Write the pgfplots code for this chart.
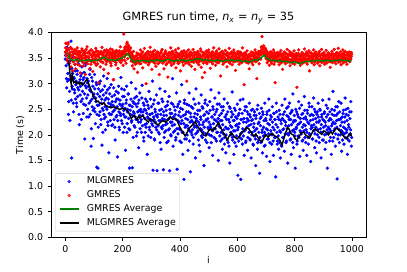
\documentclass[border=0pt]{standalone}
\usepackage{fontspec}
\setmainfont{DejaVu Sans}
\usepackage{pgfplots}
\usepackage{pgfplotstable}
\pgfplotsset{compat=1.18}
\definecolor{mplgreen}{rgb}{0,0.5,0}
\pgfplotstableread{
i ml gm
0 3.48 3.62
2 3.62 3.79
4 3.10 3.55
6 3.71 3.48
8 3.05 3.68
10 3.40 3.80
12 2.65 3.41
14 3.55 3.59
16 2.28 3.52
18 3.30 3.71
20 3.83 3.33
22 1.55 3.47
24 2.95 3.62
26 3.20 3.25
28 2.62 3.58
30 3.12 3.44
32 2.88 3.66
34 3.38 3.52
36 2.70 3.29
38 3.05 3.61
40 2.55 3.50
42 3.25 3.70
44 2.92 3.38
46 3.48 3.57
48 2.40 3.46
50 3.02 3.63
52 2.78 3.21
54 3.15 3.54
56 2.30 3.49
58 3.33 3.68
60 2.85 3.42
62 3.08 3.56
64 2.60 3.35
66 3.22 3.64
68 1.92 3.51
70 2.96 3.18
72 3.40 3.60
74 2.72 3.45
76 3.10 3.72
78 2.50 3.39
80 3.05 3.53
82 2.35 3.61
84 2.88 3.47
86 3.28 3.30
88 2.66 3.58
90 1.78 3.66
92 3.12 3.43
94 2.55 3.55
96 2.95 3.24
98 1.93 3.62
100 2.80 3.48
102 3.18 3.57
104 2.45 3.40
106 2.72 3.69
108 3.02 3.36
110 1.37 3.54
112 2.58 3.46
114 1.35 3.63
116 2.90 3.02
118 2.38 3.51
120 2.75 3.58
122 3.05 3.33
124 2.20 3.60
126 2.62 3.49
128 1.80 3.71
130 2.88 3.42
132 2.48 3.55
134 3.15 3.28
136 2.32 3.64
138 2.68 3.47
140 2.10 3.53
142 2.82 3.38
144 2.55 3.66
146 3.10 3.45
148 2.25 3.57
150 2.70 3.20
152 1.65 3.61
154 2.92 3.50
156 2.40 3.43
158 2.60 3.68
160 2.98 3.35
162 2.18 3.56
164 2.65 3.48
166 2.45 3.62
168 3.08 3.08
170 2.30 3.52
172 2.78 3.44
174 1.90 3.59
176 2.52 3.37
178 2.85 3.65
180 2.38 3.49
182 1.57 3.55
184 2.70 3.30
186 2.95 3.63
188 2.15 3.46
190 2.60 3.58
192 2.42 3.72
194 3.12 3.41
196 2.28 3.54
198 2.55 3.47
200 2.75 3.60
202 2.05 3.36
204 2.48 3.97
206 2.88 3.52
208 2.35 3.45
210 1.70 3.66
212 2.62 3.40
214 2.95 3.57
216 2.22 3.81
218 2.50 3.49
220 2.80 3.75
222 2.12 3.68
224 1.35 3.62
226 2.58 3.55
228 2.40 3.70
230 3.02 3.44
232 2.28 3.58
234 1.36 3.35
236 2.65 3.52
238 2.45 3.63
240 2.18 3.29
242 2.72 3.46
244 2.35 3.38
246 2.90 3.54
248 1.98 3.41
250 2.55 3.60
252 2.30 3.22
254 2.62 3.49
256 1.75 3.57
258 2.48 3.43
260 2.82 3.55
262 2.25 3.66
264 2.45 3.39
266 2.05 3.50
268 2.97 3.61
270 2.38 3.31
272 2.62 3.54
274 1.88 3.47
276 2.50 3.69
278 2.20 3.42
280 2.70 3.58
282 2.15 3.00
284 2.42 3.52
286 1.62 3.45
288 2.58 3.63
290 2.32 3.37
292 2.85 3.56
294 2.10 3.49
296 2.40 3.71
298 1.95 3.44
300 2.55 3.53
302 2.22 3.28
304 3.05 3.60
306 1.31 3.46
308 2.35 3.57
310 2.68 3.41
312 1.90 3.65
314 2.45 3.50
316 2.15 3.34
318 2.78 3.58
320 1.30 3.47
322 2.40 3.62
324 2.18 3.39
326 2.62 3.55
328 2.02 3.18
330 2.90 3.52
332 2.28 3.44
334 1.72 3.60
336 2.50 3.48
338 2.12 3.67
340 2.65 3.40
342 1.32 3.56
344 2.38 3.29
346 2.05 3.53
348 2.85 3.46
350 2.20 3.64
352 2.48 3.37
354 1.85 3.58
356 2.58 3.50
358 2.30 3.13
360 2.10 3.55
362 2.75 3.43
364 1.30 3.61
366 2.42 3.48
368 2.00 3.70
370 2.62 3.36
372 2.25 3.57
374 3.10 3.45
376 1.78 3.62
378 2.35 3.39
380 2.55 3.54
382 2.08 3.47
384 2.40 3.66
386 1.95 3.31
388 2.82 3.52
390 1.33 3.59
392 2.28 3.44
394 2.60 3.69
396 2.12 3.40
398 2.45 3.56
400 1.88 3.48
402 2.52 3.25
404 2.22 3.61
406 2.98 3.50
408 2.05 3.43
410 1.62 3.58
412 2.38 3.36
414 1.13 3.64
416 2.68 3.47
418 2.15 3.53
420 2.32 3.40
422 1.92 3.57
424 2.60 3.05
426 2.18 3.52
428 1.70 3.45
430 2.45 3.66
432 2.82 3.38
434 2.08 3.55
436 1.28 3.49
438 2.35 3.62
440 2.55 3.34
442 2.00 3.58
444 2.25 3.46
446 1.82 3.67
448 2.70 3.42
450 2.15 3.55
452 2.42 3.28
454 1.55 3.60
456 2.90 3.49
458 2.28 3.57
460 2.05 3.41
462 2.48 3.63
464 1.90 3.50
466 2.62 3.37
468 2.20 3.56
470 1.68 3.45
472 2.35 3.68
474 2.78 3.32
476 2.10 3.54
478 1.95 3.12
480 2.52 3.61
482 2.25 3.40
484 1.40 3.57
486 2.40 3.22
488 2.68 3.52
490 2.02 3.46
492 2.30 3.64
494 1.85 3.39
496 2.58 3.55
498 2.15 3.48
500 2.42 3.66
502 1.75 3.43
504 2.65 3.57
506 2.20 3.30
508 2.88 3.53
510 1.98 3.47
512 2.35 3.62
514 1.60 3.39
516 2.50 3.55
518 2.12 3.70
520 2.30 3.45
522 2.72 3.58
524 1.92 3.36
526 2.45 3.52
528 2.05 3.64
530 2.60 3.41
532 2.25 3.56
534 1.50 3.49
536 2.82 3.68
538 2.38 3.44
540 2.15 3.60
542 1.88 3.15
544 2.55 3.53
546 2.28 3.47
548 1.72 3.63
550 2.48 3.38
552 2.02 3.57
554 2.70 3.50
556 1.95 3.42
558 2.35 3.65
560 1.65 3.48
562 2.40 3.56
564 2.12 3.33
566 2.62 3.60
568 1.85 3.46
570 2.30 3.52
572 2.55 3.69
574 1.45 3.40
576 2.18 3.58
578 2.00 3.45
580 2.45 3.62
582 2.84 3.37
584 1.90 3.54
586 2.28 3.48
588 1.62 3.66
590 2.52 3.43
592 2.08 3.59
594 2.35 3.26
596 1.78 3.51
598 2.20 3.57
600 2.60 3.44
602 1.21 3.63
604 2.15 3.50
606 2.42 3.38
608 1.95 3.55
610 2.68 3.47
612 1.13 3.61
614 2.30 3.42
616 2.05 3.58
618 1.82 3.70
620 2.70 3.46
622 2.25 3.53
624 1.60 2.98
626 2.48 3.60
628 2.10 3.49
630 1.88 3.56
632 2.55 3.43
634 2.32 3.64
636 1.70 3.51
638 2.40 3.40
640 2.18 3.57
642 2.62 3.29
644 1.92 3.54
646 2.35 3.46
648 1.55 3.62
650 2.28 3.48
652 2.05 3.55
654 2.50 3.37
656 1.80 3.60
658 2.22 3.45
660 2.45 3.52
662 1.98 3.66
664 1.40 3.43
666 2.38 3.58
668 2.12 3.10
670 1.72 3.50
672 2.58 3.47
674 1.90 3.63
676 2.25 3.39
678 1.25 3.56
680 2.32 3.61
682 1.85 3.48
684 2.52 3.72
686 2.05 3.92
688 1.65 3.66
690 2.40 3.58
692 2.15 3.74
694 1.78 3.62
696 2.62 3.55
698 2.00 3.69
700 2.28 3.50
702 1.58 3.64
704 2.45 3.41
706 2.10 3.57
708 1.92 3.47
710 2.70 3.60
712 2.20 3.36
714 1.48 3.53
716 2.38 3.45
718 2.02 3.62
720 1.82 3.40
722 2.55 3.56
724 2.15 3.49
726 1.60 3.66
728 2.42 3.38
730 1.95 3.54
732 2.30 3.02
734 1.18 3.58
736 2.62 3.46
738 2.05 3.52
740 1.88 3.61
742 2.35 3.43
744 1.72 3.55
746 2.48 3.37
748 2.08 3.60
750 1.55 3.47
752 2.28 3.65
754 1.80 3.41
756 2.58 3.53
758 1.95 3.28
760 2.40 3.57
762 2.12 3.44
764 1.68 3.62
766 2.70 3.50
768 2.25 3.39
770 1.85 3.58
772 2.52 3.46
774 2.02 3.67
776 1.45 3.42
778 2.35 3.55
780 2.18 3.48
782 2.62 3.63
784 1.90 3.35
786 2.30 3.56
788 1.62 3.45
790 2.45 3.60
792 2.08 3.40
794 2.80 3.54
796 1.75 3.47
798 2.28 3.64
800 2.05 3.38
802 1.35 3.53
804 2.50 3.46
806 2.15 3.59
808 1.82 2.93
810 2.40 3.55
812 1.98 3.43
814 2.65 3.66
816 2.22 3.49
818 1.58 3.57
820 2.32 3.36
822 2.05 3.52
824 2.58 3.45
826 1.88 3.61
828 2.42 3.40
830 1.70 3.56
832 2.20 3.48
834 2.75 3.68
836 1.95 3.42
838 2.35 3.58
840 2.10 3.45
842 1.60 3.62
844 2.48 3.38
846 2.25 3.55
848 1.82 3.47
850 2.62 3.64
852 2.02 3.25
854 2.38 3.53
856 1.48 3.46
858 2.18 3.60
860 2.55 3.41
862 1.92 3.57
864 2.30 3.50
866 2.72 3.66
868 2.08 3.37
870 1.75 3.54
872 2.45 3.45
874 2.15 3.62
876 1.65 3.48
878 2.40 3.56
880 2.00 3.40
882 2.62 3.58
884 2.25 3.44
886 1.85 3.63
888 2.50 3.35
890 2.12 3.55
892 1.55 3.49
894 2.35 3.67
896 2.05 3.42
898 2.68 3.57
900 1.90 3.46
902 2.28 3.61
904 2.45 3.38
906 1.72 3.54
908 2.18 3.47
910 2.58 3.65
912 2.02 3.40
914 1.35 3.56
916 2.40 3.49
918 2.15 3.60
920 2.70 3.43
922 1.88 3.57
924 2.32 3.32
926 2.08 3.55
928 1.62 3.46
930 2.50 3.63
932 2.22 3.41
934 2.85 3.58
936 1.95 3.50
938 2.38 3.67
940 2.12 3.44
942 1.78 3.56
944 2.55 3.39
946 2.28 3.61
948 1.14 3.48
950 2.42 3.54
952 2.00 3.69
954 2.65 3.42
956 1.85 3.57
958 2.30 3.46
960 2.18 3.62
962 2.62 3.37
964 1.68 3.53
966 2.35 3.48
968 2.05 3.66
970 2.48 3.41
972 1.82 3.58
974 2.25 3.50
976 2.72 3.63
978 1.95 3.44
980 2.40 3.56
982 2.10 3.38
984 1.62 3.60
986 2.52 3.47
988 2.20 3.55
990 1.88 3.62
992 2.45 3.43
994 2.02 3.58
996 2.65 3.49
998 1.78 3.61
}\runs
\pgfplotstableread{
i ml gm
1 3.55 3.70
3 3.35 3.58
5 2.92 3.64
7 3.66 3.45
9 3.20 3.77
11 2.40 3.52
13 3.08 3.66
15 2.85 3.40
17 3.45 3.61
19 3.15 3.55
21 2.68 3.49
23 3.30 3.68
25 2.90 3.56
27 3.52 3.43
29 2.45 3.62
31 3.10 3.51
33 2.82 3.38
35 3.25 3.59
37 2.98 3.66
39 2.62 3.47
41 3.18 3.57
43 2.75 3.44
45 3.40 3.63
47 2.88 3.52
49 2.20 3.58
51 3.08 3.35
53 2.95 3.61
55 2.65 3.54
57 3.20 3.46
59 2.70 3.65
61 3.00 3.50
63 2.42 3.59
65 3.12 3.41
67 2.80 3.62
69 3.35 3.55
71 2.58 3.48
73 2.92 3.67
75 2.35 3.53
77 3.02 3.44
79 2.78 3.60
81 2.95 3.51
83 2.62 3.63
85 3.18 3.45
87 2.40 3.57
89 2.85 3.38
91 2.12 3.66
93 2.70 3.52
95 3.05 3.47
97 2.48 3.60
99 2.75 3.55
101 2.52 3.42
103 2.90 3.61
105 2.22 3.53
107 2.65 3.48
109 2.98 3.64
111 2.40 3.57
113 2.80 3.39
115 2.15 3.55
117 2.58 3.62
119 3.00 3.46
121 2.45 3.58
123 2.85 3.44
125 2.30 3.63
127 2.70 3.50
129 2.52 3.57
131 2.05 3.41
133 2.78 3.60
135 2.40 3.52
137 2.95 3.65
139 2.55 3.47
141 2.35 3.56
143 2.72 3.62
145 2.50 3.43
147 2.88 3.58
149 2.18 3.51
151 2.62 3.64
153 2.42 3.46
155 2.80 3.55
157 2.28 3.61
159 2.55 3.40
161 2.40 3.58
163 2.75 3.52
165 2.20 3.66
167 2.58 3.45
169 2.92 3.57
171 2.48 3.62
173 2.15 3.49
175 2.65 3.54
177 2.35 3.41
179 2.70 3.63
181 2.55 3.55
183 2.28 3.47
185 2.82 3.60
187 2.45 3.53
189 2.10 3.64
191 2.68 3.44
193 2.38 3.58
195 2.58 3.50
197 2.90 3.62
199 2.22 3.46
201 2.60 3.57
203 2.40 3.64
205 2.75 3.59
207 2.15 3.70
209 2.52 3.62
211 2.35 3.73
213 2.68 3.66
215 2.05 3.78
217 2.45 3.70
219 2.80 3.64
221 2.32 3.72
223 2.58 3.60
225 2.10 3.66
227 2.48 3.58
229 2.70 3.52
231 2.25 3.61
233 2.55 3.47
235 2.38 3.55
237 1.95 3.42
239 2.62 3.50
241 2.42 3.44
243 2.15 3.52
245 2.60 3.38
247 2.30 3.47
249 2.75 3.55
251 2.05 3.41
253 2.45 3.50
255 2.25 3.46
257 2.68 3.58
259 2.38 3.39
261 2.12 3.52
263 2.50 3.45
265 2.30 3.58
267 2.72 3.47
269 2.18 3.53
271 2.45 3.62
273 1.95 3.44
275 2.58 3.51
277 2.32 3.57
279 2.05 3.48
281 2.48 3.55
283 2.22 3.42
285 2.65 3.60
287 2.35 3.50
289 1.98 3.46
291 2.52 3.58
293 2.15 3.41
295 2.40 3.54
297 2.70 3.62
299 2.28 3.47
301 2.05 3.56
303 2.42 3.44
305 2.18 3.52
307 2.60 3.63
309 2.30 3.48
311 1.92 3.55
313 2.50 3.40
315 2.25 3.58
317 2.38 3.51
319 2.10 3.45
321 2.35 3.53
323 2.62 3.61
325 2.05 3.47
327 2.28 3.56
329 2.48 3.42
331 1.85 3.59
333 2.40 3.50
335 2.15 3.64
337 2.70 3.45
339 2.32 3.54
341 2.18 3.48
343 2.45 3.57
345 1.95 3.43
347 2.30 3.60
349 2.55 3.51
351 2.08 3.46
353 2.38 3.58
355 2.22 3.40
357 2.65 3.55
359 1.88 3.49
361 2.32 3.60
363 2.12 3.47
365 2.50 3.54
367 2.25 3.41
369 1.98 3.58
371 2.42 3.50
373 2.18 3.63
375 2.60 3.45
377 2.05 3.52
379 2.35 3.57
381 2.20 3.43
383 2.48 3.55
385 1.90 3.49
387 2.30 3.61
389 2.12 3.46
391 2.55 3.53
393 2.02 3.40
395 2.38 3.58
397 2.25 3.51
399 2.65 3.44
401 2.10 3.57
403 2.35 3.46
405 1.85 3.52
407 2.28 3.63
409 2.50 3.42
411 2.05 3.55
413 2.22 3.48
415 2.62 3.60
417 1.92 3.45
419 2.40 3.54
421 2.18 3.50
423 2.45 3.62
425 2.00 3.44
427 2.30 3.56
429 2.12 3.41
431 2.58 3.53
433 1.88 3.59
435 2.25 3.47
437 2.42 3.55
439 2.05 3.43
441 2.28 3.58
443 2.10 3.49
445 2.52 3.54
447 1.95 3.42
449 2.35 3.61
451 2.18 3.50
453 2.60 3.46
455 2.02 3.57
457 2.32 3.44
459 2.15 3.52
461 2.40 3.60
463 2.08 3.47
465 2.25 3.55
467 1.80 3.43
469 2.48 3.58
471 2.12 3.51
473 2.30 3.64
475 1.98 3.45
477 2.55 3.53
479 2.20 3.48
481 2.05 3.56
483 2.38 3.44
485 2.15 3.60
487 2.62 3.50
489 1.90 3.46
491 2.28 3.57
493 2.45 3.42
495 2.02 3.53
497 2.32 3.61
499 2.12 3.47
501 2.25 3.52
503 2.00 3.60
505 2.48 3.46
507 2.15 3.55
509 1.85 3.43
511 2.35 3.58
513 2.08 3.50
515 2.55 3.62
517 2.22 3.45
519 1.95 3.54
521 2.40 3.49
523 2.12 3.57
525 2.28 3.44
527 1.88 3.61
529 2.50 3.52
531 2.05 3.46
533 2.32 3.58
535 2.18 3.41
537 2.60 3.55
539 1.98 3.50
541 2.28 3.56
543 2.05 3.45
545 2.42 3.62
547 1.92 3.48
549 2.20 3.54
551 2.55 3.43
553 2.10 3.59
555 1.82 3.51
557 2.35 3.46
559 2.15 3.57
561 2.00 3.44
563 2.30 3.55
565 1.90 3.61
567 2.45 3.48
569 2.12 3.53
571 1.78 3.42
573 2.25 3.58
575 2.52 3.50
577 2.05 3.45
579 2.35 3.60
581 2.15 3.52
583 1.95 3.46
585 2.40 3.57
587 2.08 3.43
589 2.28 3.61
591 1.85 3.49
593 2.48 3.54
595 2.18 3.45
597 1.98 3.58
599 2.32 3.50
601 2.10 3.47
603 2.38 3.59
605 1.88 3.52
607 2.22 3.44
609 2.50 3.62
611 2.02 3.48
613 2.30 3.55
615 1.92 3.41
617 2.42 3.57
619 2.12 3.50
621 1.98 3.58
623 2.32 3.45
625 2.08 3.53
627 2.55 3.47
629 1.85 3.60
631 2.25 3.42
633 2.15 3.56
635 2.45 3.49
637 1.95 3.54
639 2.28 3.46
641 2.05 3.52
643 2.40 3.44
645 1.90 3.57
647 2.20 3.48
649 2.48 3.55
651 2.00 3.41
653 2.30 3.60
655 1.82 3.47
657 2.15 3.53
659 2.38 3.45
661 2.08 3.56
663 1.92 3.49
665 2.32 3.61
667 2.12 3.44
669 2.50 3.52
671 1.85 3.58
673 2.22 3.47
675 2.05 3.55
677 2.42 3.62
679 1.95 3.50
681 2.18 3.64
683 2.35 3.57
685 1.88 3.70
687 2.10 3.62
689 2.45 3.68
691 1.98 3.59
693 2.28 3.71
695 2.05 3.63
697 1.80 3.58
699 2.32 3.66
701 2.12 3.55
703 2.40 3.48
705 1.92 3.60
707 2.22 3.52
709 2.02 3.45
711 2.48 3.57
713 1.85 3.50
715 2.30 3.62
717 2.08 3.44
719 2.35 3.53
721 2.00 3.59
723 2.25 3.46
725 1.88 3.54
727 2.42 3.49
729 2.10 3.61
731 2.30 3.43
733 1.95 3.56
735 2.20 3.50
737 2.45 3.47
739 1.82 3.58
741 2.15 3.45
743 1.98 3.53
745 2.30 3.60
747 1.85 3.48
749 2.40 3.55
751 2.05 3.42
753 2.22 3.58
755 1.78 3.50
757 2.32 3.46
759 2.10 3.56
761 1.95 3.49
763 2.28 3.61
765 2.45 3.44
767 2.02 3.53
769 2.18 3.47
771 1.88 3.59
773 2.38 3.51
775 2.12 3.45
777 2.55 3.57
779 2.00 3.48
781 2.30 3.55
783 2.05 3.42
785 2.42 3.60
787 1.92 3.47
789 2.20 3.54
791 2.48 3.44
793 1.85 3.58
795 2.25 3.50
797 2.10 3.45
799 2.38 3.56
801 1.98 3.51
803 2.28 3.44
805 2.12 3.57
807 2.45 3.49
809 1.88 3.53
811 2.20 3.42
813 2.35 3.59
815 1.95 3.47
817 2.52 3.55
819 2.08 3.41
821 2.25 3.50
823 2.02 3.56
825 2.40 3.45
827 2.15 3.58
829 1.90 3.48
831 2.32 3.53
833 2.08 3.44
835 2.48 3.57
837 2.18 3.50
839 1.85 3.46
841 2.30 3.55
843 2.05 3.43
845 2.42 3.58
847 1.95 3.49
849 2.22 3.54
851 2.55 3.46
853 2.00 3.60
855 2.28 3.47
857 2.12 3.52
859 2.40 3.44
861 2.15 3.56
863 1.92 3.48
865 2.38 3.53
867 2.20 3.45
869 2.50 3.59
871 2.02 3.42
873 2.32 3.55
875 1.88 3.50
877 2.25 3.57
879 2.45 3.46
881 2.10 3.53
883 2.35 3.47
885 1.95 3.60
887 2.28 3.44
889 2.48 3.55
891 2.05 3.50
893 2.20 3.42
895 2.40 3.58
897 1.90 3.49
899 2.30 3.54
901 2.15 3.45
903 2.42 3.57
905 2.00 3.50
907 2.25 3.43
909 1.85 3.56
911 2.35 3.48
913 2.10 3.54
915 2.52 3.46
917 2.05 3.60
919 2.28 3.51
921 2.12 3.47
923 2.45 3.55
925 1.95 3.43
927 2.30 3.58
929 2.18 3.50
931 2.40 3.45
933 1.88 3.57
935 2.25 3.52
937 2.08 3.44
939 2.48 3.56
941 2.22 3.49
943 2.02 3.58
945 2.38 3.46
947 2.15 3.53
949 2.55 3.45
951 1.92 3.60
953 2.30 3.51
955 2.10 3.47
957 2.45 3.56
959 2.00 3.43
961 2.32 3.54
963 2.08 3.48
965 2.25 3.57
967 1.90 3.45
969 2.42 3.52
971 2.15 3.60
973 2.02 3.46
975 2.35 3.55
977 2.12 3.49
979 2.50 3.43
981 2.05 3.56
983 2.28 3.50
985 1.92 3.58
987 2.38 3.45
989 2.15 3.54
991 2.00 3.49
993 2.32 3.61
995 2.10 3.47
997 2.45 3.53
999 1.95 3.57
}\runsb
\pgfplotstableread{
i v
10 3.45
13 3.38
16 3.22
19 3.05
21 2.98
24 3.18
27 3.10
30 3.02
35 3.04
40 3.00
45 3.03
50 2.99
55 3.02
60 2.97
65 3.00
70 3.05
75 3.08
80 3.02
85 2.95
90 2.88
95 2.80
100 2.72
105 2.70
110 2.65
115 2.66
120 2.62
130 2.60
135 2.63
140 2.58
150 2.55
160 2.53
170 2.55
180 2.52
190 2.50
200 2.52
210 2.50
220 2.45
230 2.32
240 2.38
250 2.30
255 2.36
260 2.33
270 2.38
280 2.30
290 2.25
296 2.32
305 2.28
315 2.22
325 2.20
331 2.24
340 2.28
350 2.25
360 2.30
366 2.36
375 2.30
383 2.32
390 2.28
400 2.15
410 2.05
418 1.98
425 2.05
435 2.15
445 2.20
453 2.26
460 2.18
470 2.10
482 2.00
490 1.98
500 2.08
508 2.12
515 2.08
525 2.16
535 2.24
542 2.14
550 2.05
557 2.00
564 1.90
572 1.98
580 2.04
590 1.96
599 1.92
608 1.98
616 2.04
625 2.10
632 2.14
640 2.12
648 2.05
657 1.97
665 2.02
672 1.95
680 1.88
686 1.86
692 1.94
700 2.00
708 1.96
715 2.00
722 2.03
730 1.98
738 1.96
745 1.92
750 1.88
756 1.80
762 1.92
770 2.06
775 2.15
780 2.12
788 2.02
795 2.00
802 1.92
808 1.90
815 1.96
823 2.04
831 2.06
838 2.00
845 1.97
852 1.94
860 2.03
866 2.10
872 2.12
880 2.07
888 2.04
895 2.01
902 2.08
910 2.05
918 2.00
925 2.06
932 2.02
940 2.10
947 2.13
955 2.10
962 2.04
970 1.98
977 1.93
984 1.95
990 2.02
994 2.03
998 1.98
}\mlavg
\pgfplotstableread{
i v
6 3.60
10 3.58
14 3.50
18 3.48
22 3.47
30 3.45
40 3.48
50 3.44
60 3.46
70 3.45
80 3.47
90 3.44
100 3.46
110 3.45
120 3.48
130 3.50
137 3.52
145 3.48
155 3.46
165 3.47
175 3.45
185 3.48
195 3.50
205 3.53
212 3.56
219 3.59
225 3.52
232 3.46
242 3.42
250 3.45
260 3.44
270 3.46
280 3.45
290 3.43
300 3.46
310 3.44
320 3.47
330 3.45
340 3.44
350 3.46
360 3.48
370 3.45
380 3.44
390 3.46
400 3.45
410 3.47
420 3.44
430 3.46
440 3.45
450 3.47
460 3.49
470 3.48
480 3.46
490 3.47
500 3.45
510 3.46
520 3.44
530 3.47
540 3.45
550 3.43
560 3.46
570 3.45
580 3.47
590 3.44
600 3.46
610 3.45
620 3.43
630 3.45
640 3.42
650 3.44
660 3.47
670 3.46
680 3.50
688 3.53
695 3.56
702 3.50
712 3.47
721 3.45
730 3.46
740 3.44
750 3.45
760 3.43
770 3.44
780 3.42
790 3.41
800 3.43
810 3.40
820 3.39
830 3.42
840 3.44
850 3.43
860 3.45
870 3.44
880 3.46
890 3.45
900 3.44
910 3.46
920 3.45
930 3.44
940 3.46
950 3.45
960 3.47
970 3.45
980 3.46
990 3.44
998 3.45
}\gmavg
\begin{document}
\begin{tikzpicture}
\useasboundingbox (-54.1pt,-36.1pt) rectangle (377.9pt,251.9pt);
\begin{axis}[
  at={(0pt,0pt)}, anchor=south west,
  scale only axis, width=334.4pt, height=217.4pt,
  xmin=-49.95, xmax=1048.95, ymin=0, ymax=4,
  clip marker paths=true,
  xtick={0,200,400,600,800,1000},
  ytick={0,0.5,1,1.5,2,2.5,3,3.5,4},
  xtick pos=bottom, ytick pos=left,
  tick align=outside, major tick length=3.5pt,
  tick style={black, line width=0.8pt},
  axis line style={black, line width=0.8pt},
  /pgf/number format/assume math mode=true,
  /pgf/number format/1000 sep={},
  yticklabel={\pgfmathprintnumber[fixed,fixed zerofill,precision=1]{\tick}},
  xticklabel style={font=\fontsize{10}{12}\selectfont, inner sep=0pt, anchor=north, yshift=-4.7pt},
  yticklabel style={font=\fontsize{10}{12}\selectfont, inner sep=0pt, anchor=east, xshift=-4.7pt},
  title={GMRES run time, \textit{n}\textsubscript{\textit{x}} = \textit{n}\textsubscript{\textit{y}} = 35},
  title style={font=\fontsize{12}{14}\selectfont, at={(0.5,1)}, anchor=base, yshift=6.9pt, inner sep=0pt},
  xlabel={i},
  xlabel style={font=\fontsize{10}{12}\selectfont, at={(0.5,0)}, anchor=base, yshift=-27.6pt, inner sep=0pt},
  ylabel={Time (s)},
  ylabel style={font=\fontsize{10}{12}\selectfont, at={(0,0.5)}, anchor=center, yshift=32.6pt, inner sep=0pt},
  legend cell align=left,
  legend style={at={(0.013,0.029)}, anchor=south west, draw=black!20, fill=white, fill opacity=0.8, text opacity=1,
    rounded corners=2pt, inner xsep=4pt, inner ysep=4pt, row sep=5pt, column sep=8pt,
    font=\fontsize{10}{12}\selectfont,
    nodes={inner sep=0pt, text height=7.3pt, text depth=2.3pt}},
  legend image code/.code={\draw[mark repeat=2,mark phase=2,#1] plot coordinates {(0pt,0pt) (10pt,0pt) (20pt,0pt)};},
]
\addplot[blue, only marks, mark=*, mark size=1.6pt, mark options={solid, fill=blue, draw=blue, line width=0.3pt}, forget plot]
  table[x=i, y=ml] {\runs};
\addplot[blue, only marks, mark=*, mark size=1.6pt, mark options={solid, fill=blue, draw=blue, line width=0.3pt}, forget plot]
  table[x=i, y=ml] {\runsb};
\addplot[red, only marks, mark=*, mark size=1.6pt, mark options={solid, fill=red, draw=red, line width=0.3pt}, forget plot]
  table[x=i, y=gm] {\runs};
\addplot[red, only marks, mark=*, mark size=1.6pt, mark options={solid, fill=red, draw=red, line width=0.3pt}, forget plot]
  table[x=i, y=gm] {\runsb};
\addplot[mplgreen, line width=1.5pt, mark=none, forget plot] table[x=i, y=v] {\gmavg};
\addplot[black, line width=1.5pt, mark=none, forget plot] table[x=i, y=v] {\mlavg};
\addlegendimage{blue, only marks, mark=*, mark size=1.6pt, mark options={solid, fill=blue, draw=blue, line width=0.3pt}}
\addlegendentry{MLGMRES}
\addlegendimage{red, only marks, mark=*, mark size=1.6pt, mark options={solid, fill=red, draw=red, line width=0.3pt}}
\addlegendentry{GMRES}
\addlegendimage{mplgreen, line width=1.5pt, mark=none}
\addlegendentry{GMRES Average}
\addlegendimage{black, line width=1.5pt, mark=none}
\addlegendentry{MLGMRES Average}
\end{axis}
\end{tikzpicture}
\end{document}
